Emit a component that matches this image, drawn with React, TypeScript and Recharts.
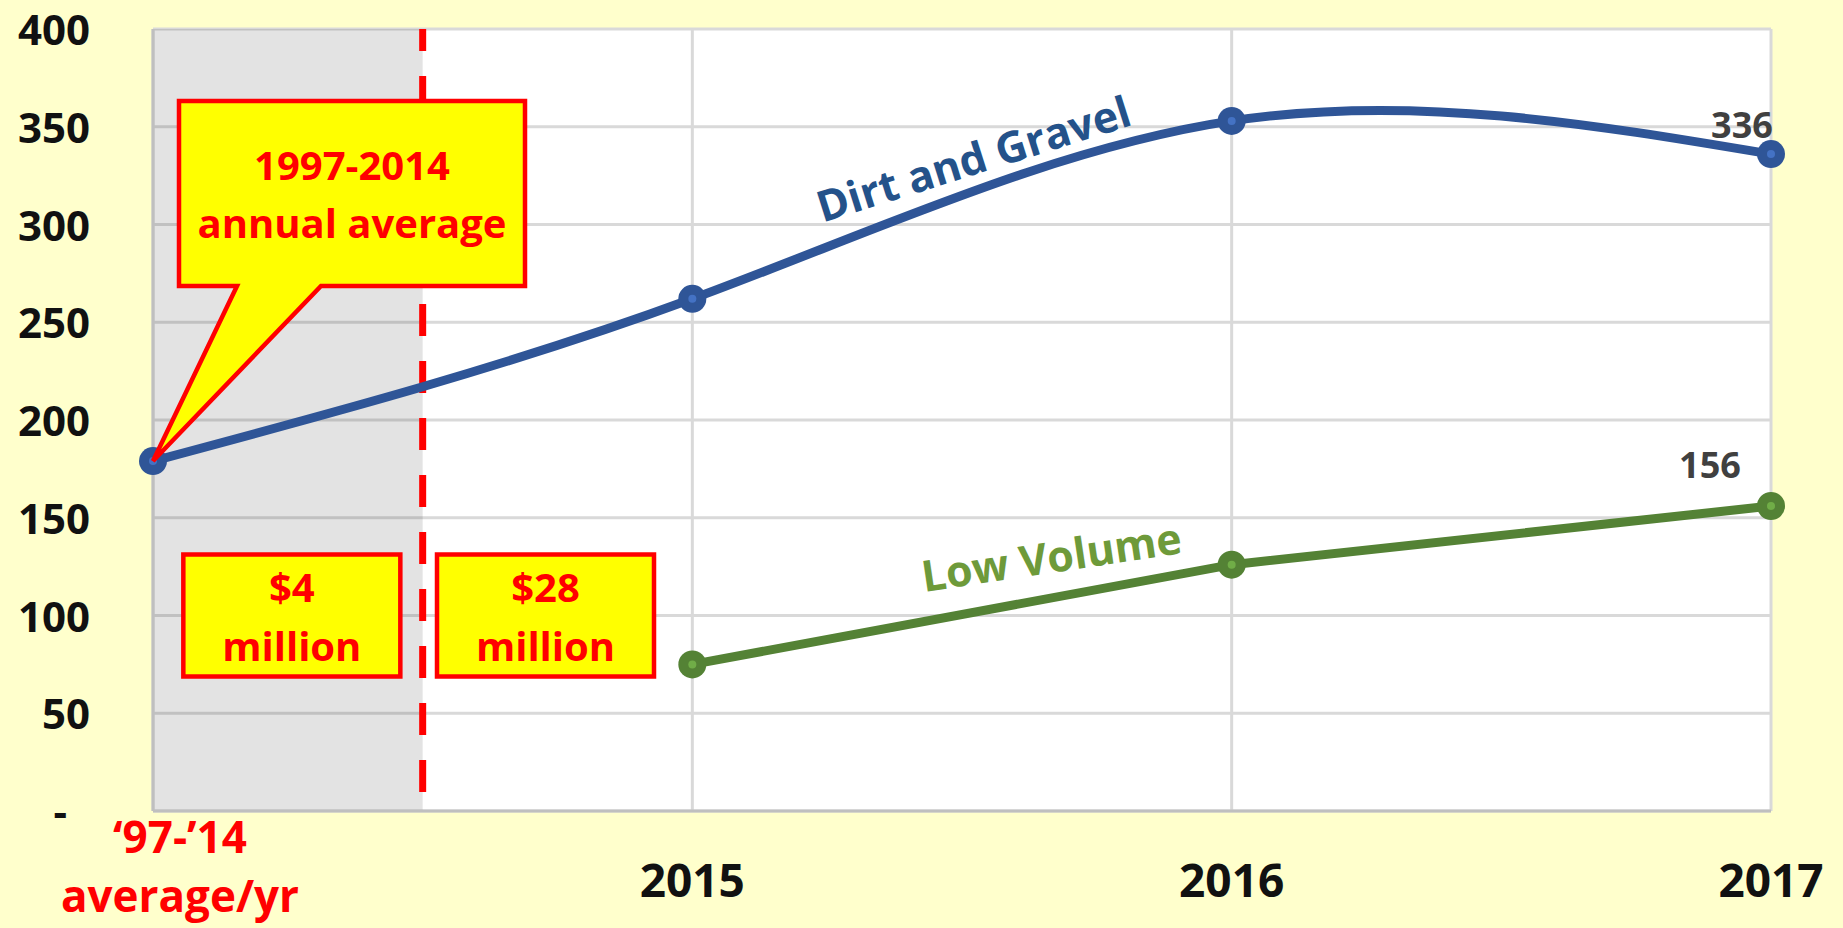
import React from "react";
import {
  LineChart,
  Line,
  XAxis,
  YAxis,
  CartesianGrid,
  ReferenceArea,
  ReferenceLine,
  ReferenceDot,
} from "recharts";

// categories (first one is the long-run average, two lines of text)
const categories = [["‘97-’14", "average/yr"], ["2015"], ["2016"], ["2017"]];
const dirtAndGravel = [179, 262, 353, 336];
const lowVolume = [null, 75, 126, 156];
const yTicks = [0, 50, 100, 150, 200, 250, 300, 350, 400];

const calloutText = ["1997-2014", "annual average"];
const fundingBefore = ["$4", "million"];
const fundingAfter = ["$28", "million"];
const periodSplit = 0.5; // boundary between the average column and 2015

const data = categories.map((c, i) => ({
  idx: i,
  dirt: dirtAndGravel[i],
  low: lowVolume[i],
}));

const FONT = "'Open Sans', 'Liberation Sans', sans-serif";
const BLUE = "#2F5597";
const GREEN = "#548235";
const RED = "#FF0000";
const YELLOW = "#FFFF00";

const YTick = ({ x, y, payload }: any) => (
  <text
    x={payload.value === 0 ? x - 23 : x}
    y={y + 16}
    textAnchor="end"
    fontFamily={FONT}
    fontWeight={700}
    fontSize={42}
    fill="#111"
  >
    {payload.value === 0 ? "-" : payload.value}
  </text>
);

const XTick = ({ x, y, payload }: any) => {
  const lines = categories[payload.value] || [];
  if (lines.length > 1) {
    return (
      <text textAnchor="middle" fontFamily={FONT} fontWeight={700} fontSize={44} fill={RED}>
        {lines.map((l, i) => (
          <tspan key={i} x={x + 27} y={y + 42 + i * 59}>
            {l}
          </tspan>
        ))}
      </text>
    );
  }
  return (
    <text x={x} y={y + 86} textAnchor="middle" fontFamily={FONT} fontWeight={700} fontSize={46} fill="#111">
      {lines[0]}
    </text>
  );
};

const makeDot = (color: string, light: string) => (props: any) => {
  const { cx, cy, index } = props;
  if (cy == null || isNaN(cy)) return <g key={index} />;
  return (
    <g key={index}>
      <circle cx={cx} cy={cy} r={14} fill={color} />
      <circle cx={cx} cy={cy} r={4} fill={light} />
    </g>
  );
};

const endLabel = (dx: number, dy: number) => (p: any) => {
  if (p.index !== categories.length - 1) return <g key={p.index} />;
  return (
    <text key={p.index} x={p.x + dx} y={p.y + dy} textAnchor="middle" fontFamily={FONT} fontWeight={700} fontSize={36} fill="#404040">
      {p.value}
    </text>
  );
};

const Callout = ({ cx, cy }: any) => {
  const L = cx + 26;
  const R = cx + 372;
  const T = cy - 360;
  const B = cy - 175;
  return (
    <g>
      <path
        d={`M${L},${T} H${R} V${B} H${cx + 168} L${cx},${cy} L${cx + 84},${B} H${L} Z`}
        fill={YELLOW}
        stroke={RED}
        strokeWidth={4.5}
      />
      <text textAnchor="middle" fontFamily={FONT} fontWeight={700} fontSize={40} fill={RED}>
        {calloutText.map((t, i) => (
          <tspan key={i} x={(L + R) / 2} y={cy - 281 + i * 58}>
            {t}
          </tspan>
        ))}
      </text>
    </g>
  );
};

const moneyBox = (lines: string[], shift: number) => ({ cx, cy }: any) => {
  const w = 217;
  const h = 122;
  const mx = cx + shift;
  return (
    <g>
      <rect x={mx - w / 2} y={cy - h / 2} width={w} height={h} fill={YELLOW} stroke={RED} strokeWidth={4.5} />
      <text textAnchor="middle" fontFamily={FONT} fontWeight={700} fontSize={40} fill={RED}>
        {lines.map((t, i) => (
          <tspan key={i} x={mx} y={cy - 14 + i * 59}>
            {t}
          </tspan>
        ))}
      </text>
    </g>
  );
};

const seriesName = (text: string, color: string, angle: number) => ({ cx, cy }: any) => (
  <text
    x={cx}
    y={cy}
    textAnchor="middle"
    transform={`rotate(${angle} ${cx} ${cy})`}
    fontFamily={FONT}
    fontWeight={700}
    fontSize={43}
    fill={color}
  >
    {text}
  </text>
);

export default function App() {
  return (
    <div style={{ position: "absolute", left: 0, top: 0, width: 1843, height: 928, background: "#FFFFCC" }}>
      <LineChart width={1843} height={928} data={data} margin={{ top: 29, right: 72, bottom: 0, left: 0 }}>
        <CartesianGrid fill="#FFFFFF" stroke="#D9D9D9" strokeWidth={3} />
        <XAxis
          type="number"
          dataKey="idx"
          domain={[0, categories.length - 1]}
          ticks={categories.map((c, i) => i)}
          height={117}
          tickLine={false}
          tickSize={0}
          tickMargin={0}
          axisLine={{ stroke: "#BFBFBF", strokeWidth: 3 }}
          tick={<XTick />}
          interval={0}
        />
        <YAxis
          domain={[0, 400]}
          ticks={yTicks}
          width={153}
          tickLine={false}
          tickSize={0}
          tickMargin={63}
          axisLine={{ stroke: "#BFBFBF", strokeWidth: 3 }}
          tick={<YTick />}
          interval={0}
        />
        <ReferenceArea x1={0} x2={periodSplit} fill="#000000" fillOpacity={0.11} />
        <ReferenceLine x={periodSplit} stroke={RED} strokeWidth={7} strokeDasharray="32 25" strokeDashoffset={38} />
        <Line
          type="natural"
          dataKey="dirt"
          stroke={BLUE}
          strokeWidth={9}
          dot={makeDot(BLUE, "#4472C4")}
          label={endLabel(-29, -16)}
          isAnimationActive={false}
        />
        <Line
          type="linear"
          dataKey="low"
          stroke={GREEN}
          strokeWidth={9}
          dot={makeDot(GREEN, "#70AD47")}
          label={endLabel(-61, -28)}
          isAnimationActive={false}
        />
        <ReferenceDot x={1.53} y={326} r={0} shape={seriesName("Dirt and Gravel", "#24528A", -17.5)} />
        <ReferenceDot x={1.67} y={122} r={0} shape={seriesName("Low Volume", "#6E9A3A", -8.5)} />
        <ReferenceDot x={0.25} y={100} r={0} shape={moneyBox(fundingBefore, 4)} />
        <ReferenceDot x={0.75} y={100} r={0} shape={moneyBox(fundingAfter, -12)} />
        <ReferenceDot x={0} y={dirtAndGravel[0]} r={0} shape={<Callout />} />
      </LineChart>
    </div>
  );
}
